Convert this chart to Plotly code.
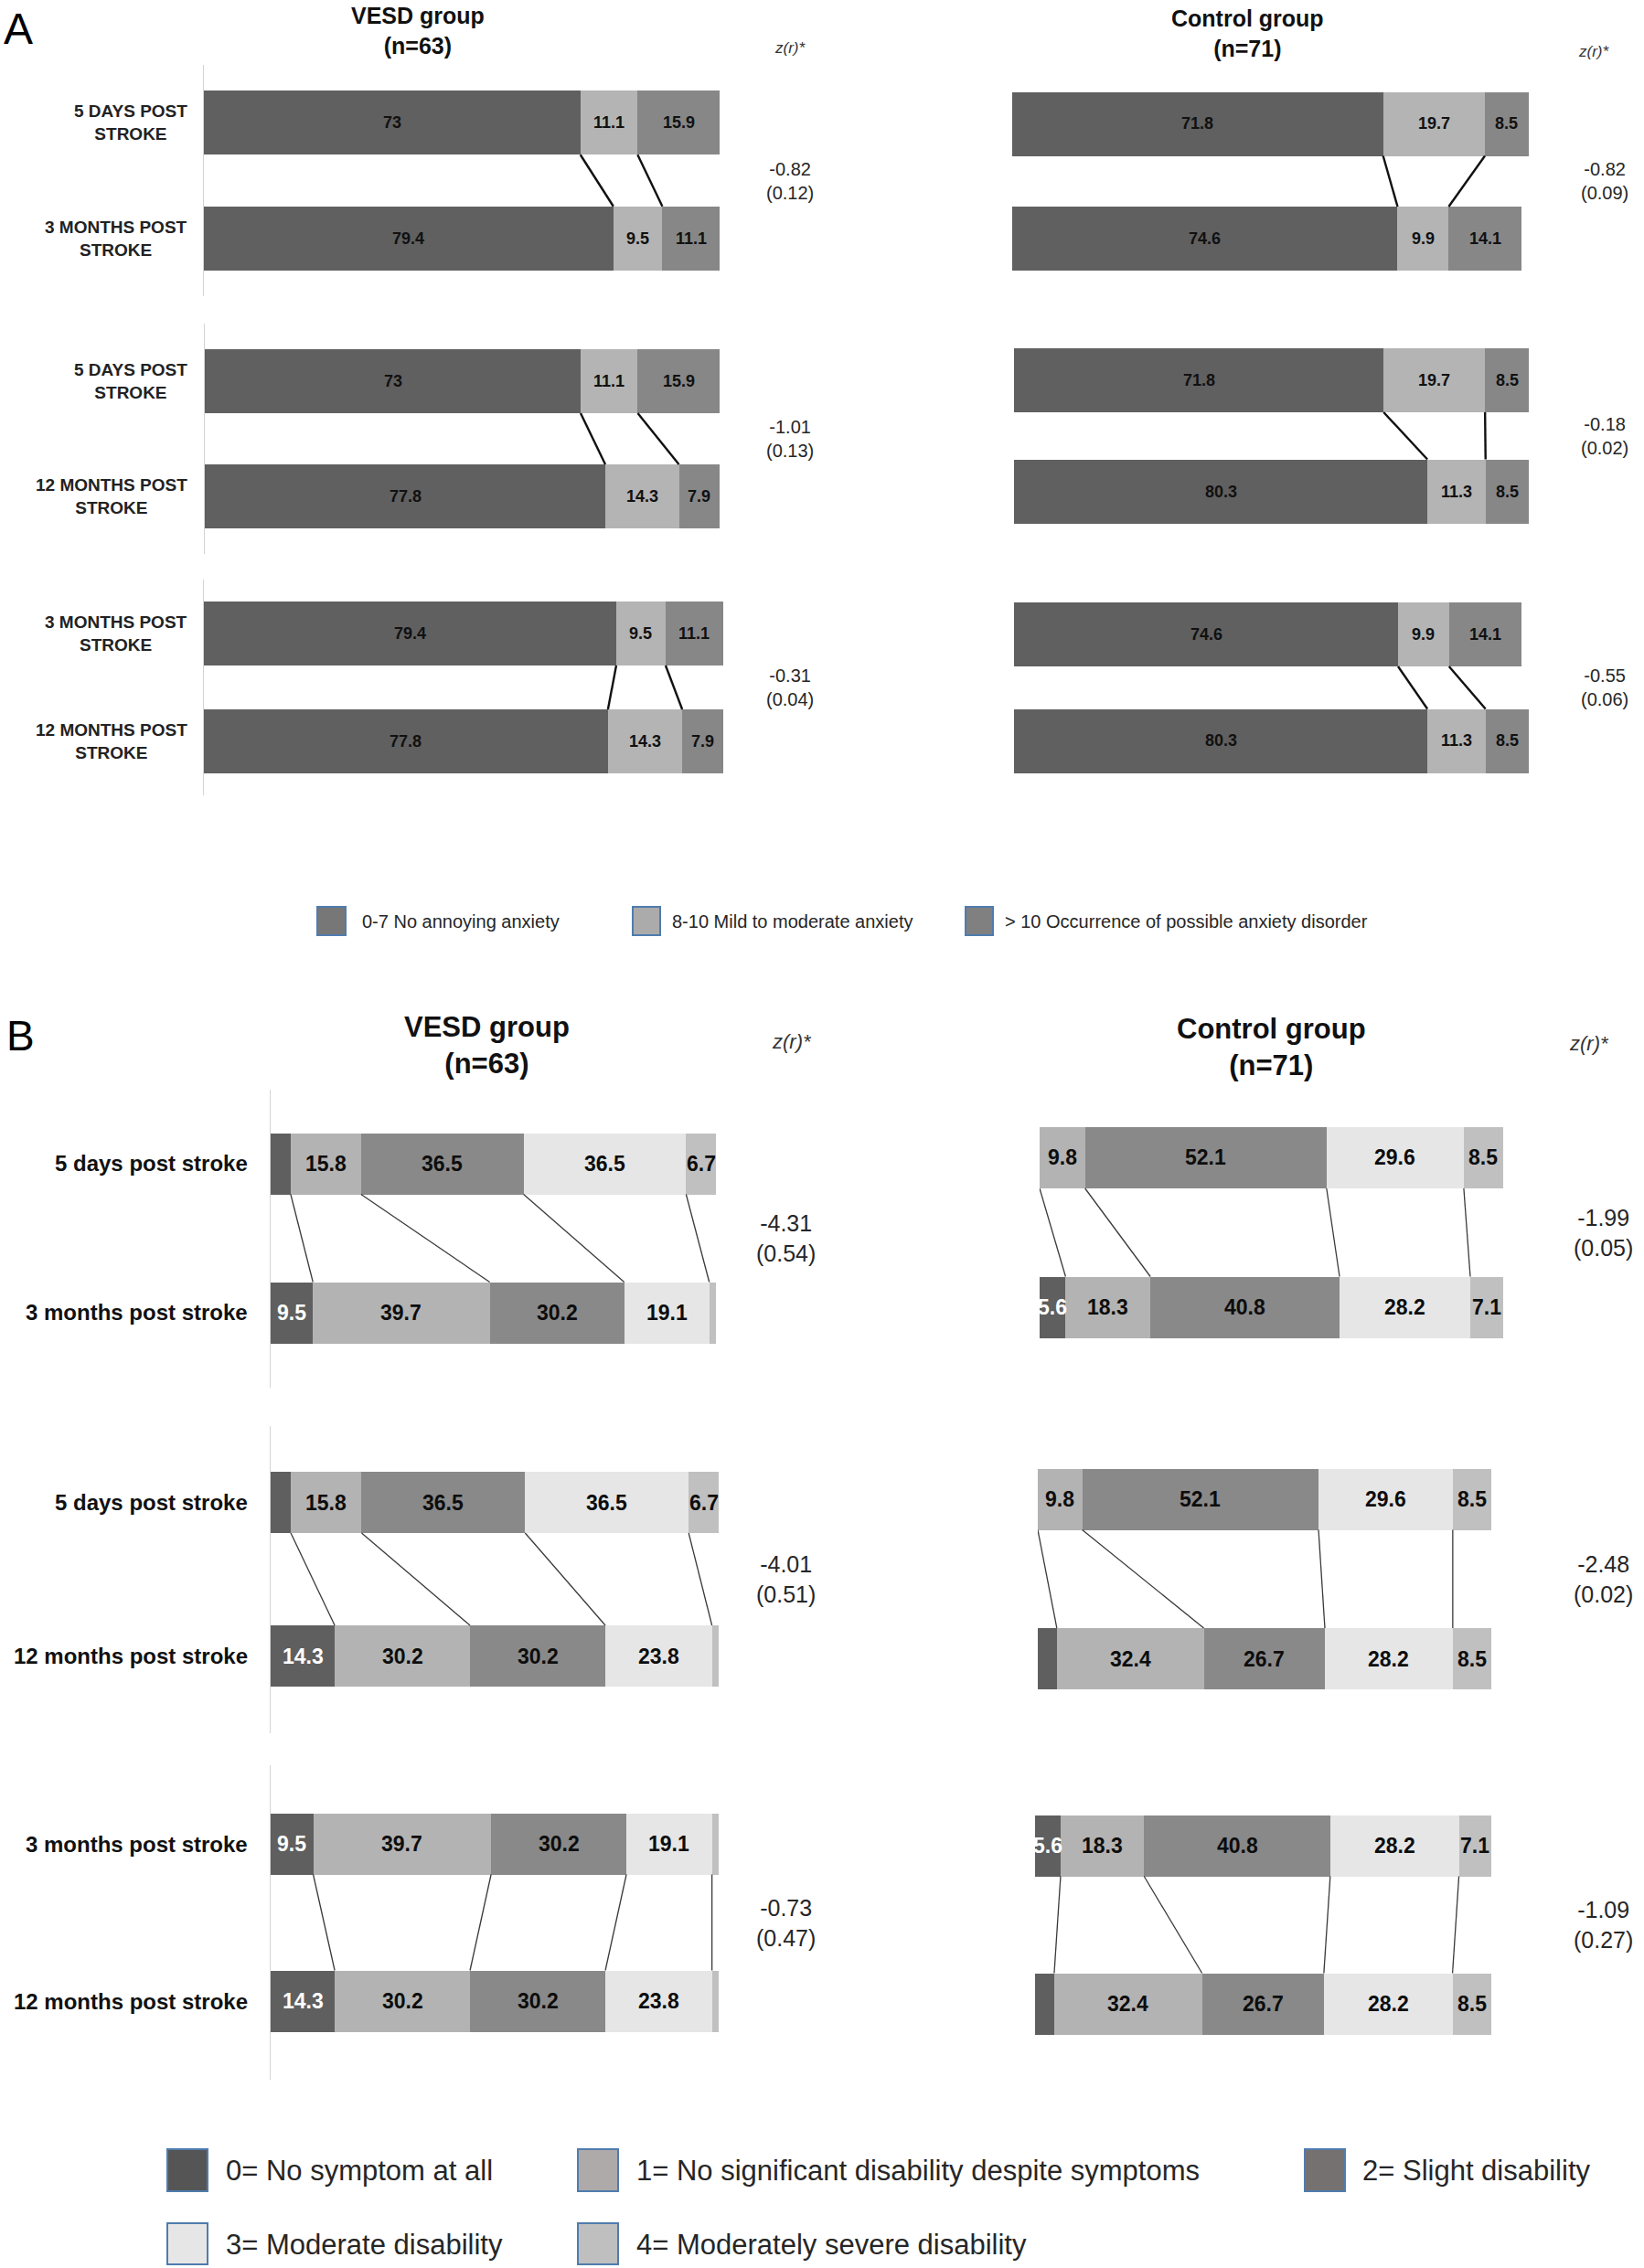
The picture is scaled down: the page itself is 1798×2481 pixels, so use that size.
import plotly.graph_objects as go

W, H = 1798, 2481

# ------------------------------------------------------------------ data
anx_categories = ["0-7 No annoying anxiety",
                  "8-10 Mild to moderate anxiety",
                  "> 10 Occurrence of possible anxiety disorder"]
mrs_categories = ["0= No symptom at all",
                  "1= No significant disability despite symptoms",
                  "2= Slight disability",
                  "3= Moderate disability",
                  "4= Moderately severe disability"]

anx_time_labels = ["5 DAYS POST<br>STROKE", "3 MONTHS POST<br>STROKE", "12 MONTHS POST<br>STROKE"]
mrs_time_labels = ["5 days post stroke", "3 months post stroke", "12 months post stroke"]

group_titles = ["VESD group<br>(n=63)", "Control group<br>(n=71)"]
z_header = "z(r)*"

# HADS anxiety (%), panel A
anx_vesd_5d = [73.0, 11.1, 15.9]
anx_vesd_3m = [79.4, 9.5, 11.1]
anx_vesd_12m = [77.8, 14.3, 7.9]
anx_ctrl_5d = [71.8, 19.7, 8.5]
anx_ctrl_3m = [74.6, 9.9, 14.1]
anx_ctrl_12m = [80.3, 11.3, 8.5]

# modified Rankin scale (%), panel B
mrs_vesd_5d = [4.5, 15.8, 36.5, 36.5, 6.7]
mrs_vesd_3m = [9.5, 39.7, 30.2, 19.1, 1.5]
mrs_vesd_12m = [14.3, 30.2, 30.2, 23.8, 1.5]
mrs_ctrl_5d = [0.0, 9.8, 52.1, 29.6, 8.5]
mrs_ctrl_3m = [5.6, 18.3, 40.8, 28.2, 7.1]
mrs_ctrl_12m = [4.2, 32.4, 26.7, 28.2, 8.5]

# comparisons (time index pairs) and test statistics
pairs = [(0, 1), (0, 2), (1, 2)]
anx_z_vesd = ["-0.82", "-1.01", "-0.31"]
anx_r_vesd = ["0.12", "0.13", "0.04"]
anx_z_ctrl = ["-0.82", "-0.18", "-0.55"]
anx_r_ctrl = ["0.09", "0.02", "0.06"]
mrs_z_vesd = ["-4.31", "-4.01", "-0.73"]
mrs_r_vesd = ["0.54", "0.51", "0.47"]
mrs_z_ctrl = ["-1.99", "-2.48", "-1.09"]
mrs_r_ctrl = ["0.05", "0.02", "0.27"]

# ------------------------------------------------------------------ style
REG = "Liberation Sans, Arial, sans-serif"
NAR = "Liberation Sans Narrow, Arial Narrow, Liberation Sans, Arial, sans-serif"
BORDER = "#4f7cae"

panels = [
    dict(
        letter="A", letter_pos=(2, 31), letter_size=48,
        series=[[anx_vesd_5d, anx_vesd_3m, anx_vesd_12m],
                [anx_ctrl_5d, anx_ctrl_3m, anx_ctrl_12m]],
        z=[anx_z_vesd, anx_z_ctrl], r=[anx_r_vesd, anx_r_ctrl],
        times=anx_time_labels, cats=anx_categories,
        colors=["#606060", "#b4b4b4", "#878787"],
        label_colors=["#111111", "#111111", "#111111"],
        legend_colors=["#777777", "#ababab", "#808080"],
        xdom=[[(223, 787), (224, 787), (223, 791)],
              [(1107, 1672), (1109, 1672), (1109, 1672)]],
        ydom=[[(71, 324), (354, 606), (634, 870)],
              [(72.75, 323.75), (355.25, 598.25), (635.75, 868.75)]],
        thick=70, min_label=0, val_bold=True,
        val_font=dict(family=NAR, size=18, color="#111111"),
        line=dict(color="#111111", width=2.4),
        title_x=[457, 1364], title_y=[34, 36], title_font=dict(family=NAR, size=25, color="#111111"),
        zh_x=[864, 1743], zh_y=[52, 56], zh_size=17,
        z_x=[864, 1755], z_size=20,
        tl_right=207, tl_font=dict(family=REG, size=19, color="#222222"),
        leg_boxes=[(347, 992, 378, 1023), (692, 992, 722, 1023), (1056, 992, 1086, 1023)],
        leg_text=[(394, 1008), (733, 1008), (1097, 1008)],
        leg_font=dict(family=NAR, size=20, color="#262626"),
    ),
    dict(
        letter="B", letter_pos=(5, 1133), letter_size=46,
        series=[[mrs_vesd_5d, mrs_vesd_3m, mrs_vesd_12m],
                [mrs_ctrl_5d, mrs_ctrl_3m, mrs_ctrl_12m]],
        z=[mrs_z_vesd, mrs_z_ctrl], r=[mrs_r_vesd, mrs_r_ctrl],
        times=mrs_time_labels, cats=mrs_categories,
        colors=["#5f5f5f", "#b3b3b3", "#898989", "#e6e6e6", "#c0c0c0"],
        label_colors=["#ffffff", "#0d0d0d", "#0d0d0d", "#0d0d0d", "#0d0d0d"],
        legend_colors=["#555555", "#aeaaaa", "#767171", "#e7e6e6", "#bfbfbf"],
        xdom=[[(296, 783), (296, 786), (296, 786)],
              [(1137, 1644), (1135, 1631), (1132, 1631)]],
        ydom=[[(1191.5, 1517.5), (1559.5, 1895.5), (1931, 2275)],
              [(1184.75, 1511.75), (1552.75, 1901.75), (1932.5, 2278.5)]],
        thick=67, min_label=5, val_bold=True,
        val_font=dict(family=REG, size=23, color="#0d0d0d"),
        line=dict(color="#3a3a3a", width=1.3),
        title_x=[532, 1390], title_y=[1143, 1145], title_font=dict(family=REG, size=31, color="#111111"),
        zh_x=[866, 1738], zh_y=[1140, 1141], zh_size=22,
        z_x=[859, 1753], z_size=25,
        tl_right=273, tl_font=dict(family=REG, size=24, color="#111111"),
        leg_boxes=[(183, 2351, 227, 2397), (632, 2351, 676, 2397), (1427, 2351, 1471, 2397),
                   (183, 2432, 227, 2477), (632, 2432, 676, 2477)],
        leg_text=[(245, 2374), (694, 2374), (1488, 2374), (245, 2455), (694, 2455)],
        leg_font=dict(family=REG, size=31, color="#262626"),
    ),
]


def px(x):
    return x / W


def py(y):
    return 1 - y / H


def bold(t):
    return "<b>" + t.replace("<br>", "</b><br><b>") + "</b>"


fig = go.Figure()
layout_axes = {}
annotations = []
shapes = []

k = 0
for p in panels:
    ncat = len(p["cats"])
    annotations.append(dict(x=px(p["letter_pos"][0]), y=py(p["letter_pos"][1]), xref="paper", yref="paper",
                            text=p["letter"], showarrow=False, xanchor="left", yanchor="middle",
                            font=dict(family=REG, size=p["letter_size"], color="#000000")))
    for side in range(2):
        annotations.append(dict(x=px(p["title_x"][side]), y=py(p["title_y"][side]), xref="paper", yref="paper",
                                text=bold(group_titles[side]), showarrow=False, xanchor="center",
                                yanchor="middle", align="center", font=p["title_font"]))
        annotations.append(dict(x=px(p["zh_x"][side]), y=py(p["zh_y"][side]), xref="paper", yref="paper",
                                text="<i>" + z_header + "</i>", showarrow=False, xanchor="center",
                                yanchor="middle", font=dict(family=NAR, size=p["zh_size"], color="#333333")))
        for j, (a, b) in enumerate(pairs):
            k += 1
            xa = "x" if k == 1 else f"x{k}"
            ya = "y" if k == 1 else f"y{k}"
            xd = p["xdom"][side][j]
            yd = p["ydom"][side][j]
            layout_axes["xaxis" + ("" if k == 1 else str(k))] = dict(
                domain=[px(xd[0]), px(xd[1])], range=[0, 100], visible=False, anchor=ya, fixedrange=True)
            layout_axes["yaxis" + ("" if k == 1 else str(k))] = dict(
                domain=[py(yd[1]), py(yd[0])], range=[-0.5, 1.5], anchor=xa, showline=(side == 0),
                linecolor="#d4d4d4", linewidth=1.5, showticklabels=False, showgrid=False,
                zeroline=False, ticks="", fixedrange=True)
            top = p["series"][side][a]
            bot = p["series"][side][b]
            w = p["thick"] / ((yd[1] - yd[0]) / 2)
            for i in range(ncat):
                fig.add_trace(go.Bar(x=[top[i], bot[i]], y=[1, 0], orientation="h", width=w,
                                     marker=dict(color=p["colors"][i], line=dict(width=0)),
                                     xaxis=xa, yaxis=ya, showlegend=False, hoverinfo="skip"))
            # value labels inside the segments
            for yv, vals in ((1, top), (0, bot)):
                c = 0.0
                for i, v in enumerate(vals):
                    if v > 0 and v >= p["min_label"]:
                        f = dict(p["val_font"])
                        f["color"] = p["label_colors"][i]
                        txt = f"{v:g}"
                        if p["val_bold"]:
                            txt = "<b>" + txt + "</b>"
                        annotations.append(dict(x=c + v / 2, y=yv, xref=xa, yref=ya, text=txt,
                                                showarrow=False, xanchor="center", yanchor="middle", font=f))
                    c += v
            # connector lines between category boundaries
            lx, ly = [], []
            ct, cb = 0.0, 0.0
            for i in range(ncat - 1):
                ct += top[i]
                cb += bot[i]
                lx += [ct, cb, None]
                ly += [1 - w / 2, w / 2, None]
            fig.add_trace(go.Scatter(x=lx, y=ly, mode="lines", line=p["line"], xaxis=xa, yaxis=ya,
                                     showlegend=False, hoverinfo="skip"))
            # z(r) value
            annotations.append(dict(x=px(p["z_x"][side]), y=0.5, xref="paper", yref=ya,
                                    text=p["z"][side][j] + "<br>(" + p["r"][side][j] + ")",
                                    showarrow=False, xanchor="center", yanchor="middle", align="center",
                                    font=dict(family=NAR, size=p["z_size"], color="#262626")))
            # time labels (left group only)
            if side == 0:
                for yv, ti in ((1, a), (0, b)):
                    annotations.append(dict(x=px(p["tl_right"]), y=yv, xref="paper", yref=ya,
                                            text=bold(p["times"][ti]), showarrow=False,
                                            xanchor="right", yanchor="middle", align="center",
                                            font=p["tl_font"]))
    # legend
    for i in range(ncat):
        x0, y0, x1, y1 = p["leg_boxes"][i]
        shapes.append(dict(type="rect", xref="paper", yref="paper", x0=px(x0), x1=px(x1), y0=py(y1), y1=py(y0),
                           fillcolor=p["legend_colors"][i], line=dict(color=BORDER, width=2)))
        tx, ty = p["leg_text"][i]
        annotations.append(dict(x=px(tx), y=py(ty), xref="paper", yref="paper", text=p["cats"][i],
                                showarrow=False, xanchor="left", yanchor="middle", font=p["leg_font"]))

fig.update_layout(
    width=W, height=H, margin=dict(l=0, r=0, t=0, b=0),
    paper_bgcolor="white", plot_bgcolor="rgba(0,0,0,0)",
    barmode="stack", showlegend=False,
    annotations=annotations, shapes=shapes,
    **layout_axes,
)

fig.write_html("out.html", config={"displayModeBar": False, "staticPlot": True},
               post_script="document.body.style.margin='0';document.body.style.overflow='hidden';")
